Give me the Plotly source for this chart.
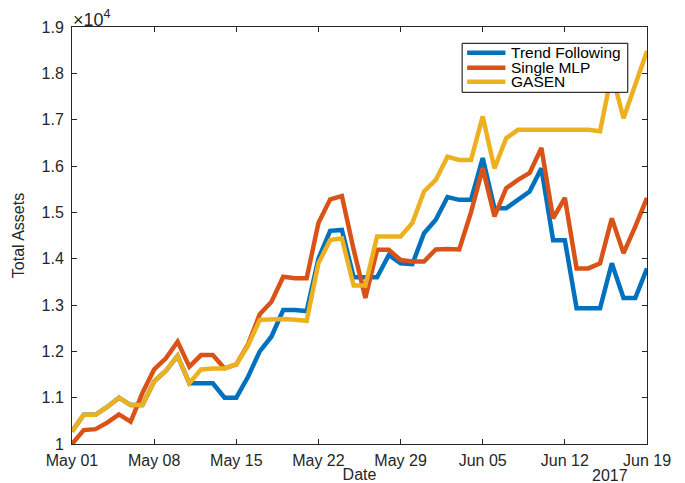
import pandas as pd
import plotly.graph_objects as go

dates = pd.date_range("2017-05-01", "2017-06-19", freq="D")

trend_following = [
    10270, 10630, 10630, 10800, 11000, 10840, 10840, 11350, 11580, 11900,
    11310, 11310, 11310, 11000, 11000, 11450, 12000, 12320, 12890, 12890,
    12870, 14000, 14600, 14620, 13600, 13600, 13600, 14080, 13900, 13880,
    14550, 14840, 15330, 15270, 15270, 16170, 15090, 15090, 15270, 15450,
    15950, 14400, 14400, 12930, 12930, 12930, 13900, 13150, 13150, 13790,
]
single_mlp = [
    10000, 10300, 10320, 10460, 10640, 10480, 11100, 11610, 11850, 12210,
    11670, 11920, 11920, 11630, 11720, 12150, 12800, 13070, 13610, 13580,
    13580, 14770, 15280, 15350, 14200, 13150, 14190, 14190, 13970, 13940,
    13940, 14200, 14210, 14200, 15000, 15950, 14910, 15520, 15700, 15850,
    16390, 14870, 15310, 13790, 13790, 13900, 14870, 14120, 14690, 15310,
]
gasen = [
    10270, 10630, 10630, 10800, 11000, 10840, 10840, 11350, 11580, 11900,
    11310, 11610, 11630, 11630, 11720, 12120, 12680, 12700, 12700, 12680,
    12660, 13900, 14400, 14440, 13420, 13420, 14480, 14480, 14480, 14770,
    15450, 15700, 16200, 16130, 16130, 17070, 15950, 16600, 16780, 16780,
    16780, 16780, 16780, 16780, 16780, 16750, 18000, 17030, 17750, 18480,
]

series_names = ["Trend Following", "Single MLP", "GASEN"]
series_colors = ["#0072BD", "#D95319", "#EDB120"]

y_tick_vals = [10000, 11000, 12000, 13000, 14000, 15000, 16000, 17000, 18000, 19000]
y_tick_text = ["1", "1.1", "1.2", "1.3", "1.4", "1.5", "1.6", "1.7", "1.8", "1.9"]
x_tick_vals = pd.date_range("2017-05-01", "2017-06-19", freq="7D")
x_tick_text = ["May 01", "May 08", "May 15", "May 22", "May 29", "Jun 05", "Jun 12", "Jun 19"]

FONT = "Liberation Sans, Arial, Helvetica, sans-serif"
AX = "#262626"

fig = go.Figure()
for name, vals, col in zip(series_names, [trend_following, single_mlp, gasen], series_colors):
    fig.add_trace(go.Scatter(x=dates, y=vals, mode="lines", name=name,
                             line=dict(color=col, width=4.5), showlegend=False))

# legend box drawn by hand (compact MATLAB-style spacing)
leg_x0, leg_x1, leg_y0, leg_y1 = 0.6785, 0.9666, 0.8434, 0.9609
leg_line_x0, leg_line_x1, leg_text_x = 0.6872, 0.7538, 0.7625
leg_rows = [0.9384, 0.9024, 0.8688]

shapes = [dict(type="rect", xref="paper", yref="paper", x0=leg_x0, x1=leg_x1,
               y0=leg_y0, y1=leg_y1, line=dict(color="#000000", width=1),
               fillcolor="white", layer="above")]
annotations = []
for name, col, ry in zip(series_names, series_colors, leg_rows):
    shapes.append(dict(type="line", xref="paper", yref="paper", x0=leg_line_x0,
                       x1=leg_line_x1, y0=ry, y1=ry, line=dict(color=col, width=4.5),
                       layer="above"))
    annotations.append(dict(text=name, xref="paper", yref="paper", x=leg_text_x, y=ry,
                            xanchor="left", yanchor="middle", showarrow=False,
                            borderpad=0,
                            font=dict(size=15.5, color="#000000")))

annotations += [
    dict(text="×10<sup>4</sup>", xref="paper", yref="paper", x=0, y=1,
         xanchor="left", yanchor="middle", showarrow=False, borderpad=0,
         font=dict(size=18, color=AX), yshift=9),
    dict(text="2017", xref="paper", yref="paper", x=0.9365, y=0,
         xanchor="center", yanchor="top", showarrow=False,
         font=dict(size=16, color=AX), yshift=-21),
]

fig.update_layout(
    width=677, height=475,
    margin=dict(l=64, r=38, t=19, b=39),
    paper_bgcolor="white", plot_bgcolor="white",
    font=dict(family=FONT, color=AX, size=16),
    showlegend=False,
    shapes=shapes,
    annotations=annotations,
    xaxis=dict(range=[dates[0], dates[-1]], tickvals=x_tick_vals, ticktext=x_tick_text,
               showgrid=False, zeroline=False, showline=True, linecolor=AX, linewidth=1,
               mirror="ticks", ticks="inside", ticklen=5, tickcolor=AX,
               tickfont=dict(size=16, color=AX), ticklabelstandoff=2,
               title=dict(text="Date", font=dict(size=16, color=AX), standoff=0),
               automargin=False),
    yaxis=dict(range=[10000, 19000], tickvals=y_tick_vals, ticktext=y_tick_text,
               showgrid=False, zeroline=False, showline=True, linecolor=AX, linewidth=1,
               mirror="ticks", ticks="inside", ticklen=5, tickcolor=AX,
               tickfont=dict(size=16, color=AX), ticklabelstandoff=4,
               title=dict(text="Total Assets", font=dict(size=16, color=AX), standoff=12),
               automargin=False),
)

fig.write_html("out.html")
